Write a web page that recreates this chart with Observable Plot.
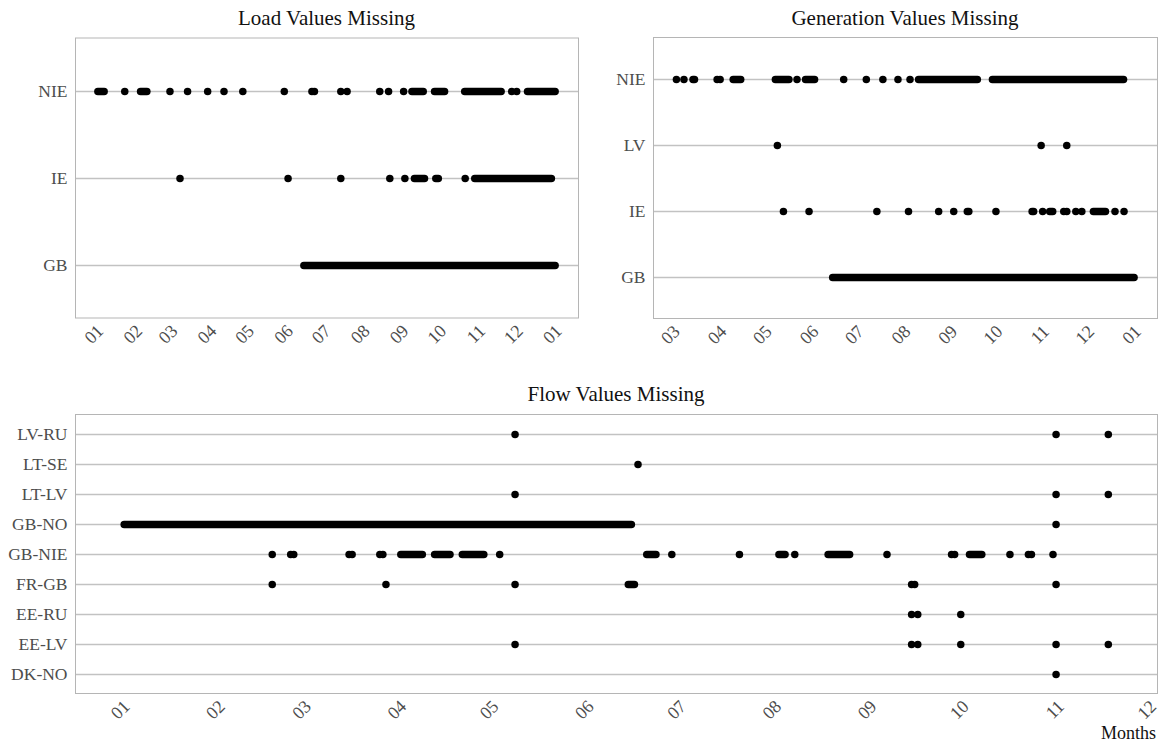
<!DOCTYPE html>
<html>
<head>
<meta charset="utf-8">
<script src="https://cdn.jsdelivr.net/npm/d3@7"></script>
<script src="https://cdn.jsdelivr.net/npm/@observablehq/plot@0.6"></script>
<style>
  body { margin: 0; background: #fff; }
  #wrap { position: relative; width: 1162px; height: 744px; overflow: hidden;
          font-family: "Liberation Serif", "DejaVu Serif", serif; }
  #wrap svg, #wrap svg text { font-family: "Liberation Serif", "DejaVu Serif", serif !important; }
  .panel { position: absolute; }
  .title { position: absolute; font-size: 21px; color: #111; text-align: center;
           white-space: nowrap; transform: translateX(-50%); line-height: 1; }
  .xlab { position: absolute; font-size: 18px; color: #111; white-space: nowrap; line-height: 1; }
</style>
</head>
<body>
<div id="wrap"></div>
<script>
const YEAR = 2017;

// Missing timestamps as "MM-DD"; a pair ["MM-DD", "MM-DD"] is an unbroken run of gaps.

// ---- Load ----
const loadAreas = ["NIE", "IE", "GB"];
const loadNIE = [["01-01", "01-06"], "01-22", ["02-04", "02-09"], "02-27", "03-13", "03-29",
  "04-11", "04-26", "05-29", "06-20", "06-22", "07-13", "07-18", "08-13", "08-20", "09-01",
  ["09-08", "09-17"], ["09-26", "10-04"], ["10-20", "11-18"], "11-26", "11-30", ["12-09", "12-31"]];
const loadIE = ["03-07", "06-01", "07-13", "08-21", "09-02", ["09-10", "09-18"],
  ["09-27", "09-29"], "10-20", ["10-28", "12-28"]];
const loadGB = [["06-14", "12-31"]];

// ---- Generation ----
const genAreas = ["NIE", "LV", "IE", "GB"];
const genNIE = ["03-02", "03-07", "03-13", "03-14", "03-29", "03-31", ["04-09", "04-14"],
  ["05-07", "05-16"], "05-21", ["05-27", "06-02"], "06-21", "07-06", "07-17", "07-27", "08-04",
  ["08-10", "09-18"], ["09-28", "12-24"]];
const genLV = ["05-08", "10-30", "11-16"];
const genIE = ["05-12", "05-29", "07-13", "08-03", "08-23", "09-02", "09-11", "09-12", "09-30",
  "10-24", "10-25", "10-31", ["11-05", "11-07"], "11-14", "11-16", "11-22", "11-26",
  ["12-04", "12-12"], "12-18", "12-24"];
const genGB = [["06-14", "12-31"]];

// ---- Flow (border pairs) ----
const flowPairs = ["LV-RU", "LT-SE", "LT-LV", "GB-NO", "GB-NIE", "FR-GB", "EE-RU", "EE-LV", "DK-NO"];
const flowLVRU = ["05-08", "10-31", "11-17"];
const flowLTSE = ["06-17"];
const flowLTLV = ["05-08", "10-31", "11-17"];
const flowGBNO = [["01-01", "06-15"], "10-31"];
const flowGBNIE = ["02-18", "02-24", "02-25", "03-15", "03-16", "03-25", "03-26",
  ["04-01", "04-08"], ["04-12", "04-17"], ["04-21", "04-28"], "05-03", ["06-20", "06-23"],
  "06-28", "07-20", ["08-02", "08-04"], "08-07", ["08-18", "08-25"], "09-06", "09-27", "09-28",
  ["10-03", "10-07"], "10-16", "10-22", "10-23", "10-30"];
const flowFRGB = ["02-18", "03-27", "05-08", ["06-14", "06-16"], "09-14", "09-15", "10-31"];
const flowEERU = ["09-14", "09-16", "09-30"];
const flowEELV = ["05-08", "09-14", "09-16", "09-30", "10-31", "11-17"];
const flowDKNO = ["10-31"];

const toDate = s => new Date(`${YEAR}-${s}T00:00:00Z`);

// Split a category's entries into single points and runs
function collect(series) {
  const points = [], runs = [];
  for (const [cat, list] of series) {
    for (const e of list) {
      if (Array.isArray(e)) runs.push({cat, from: toDate(e[0]), to: toDate(e[1])});
      else points.push({cat, date: toDate(e)});
    }
  }
  return {points, runs};
}

const FONT = '"Liberation Serif", "DejaVu Serif", serif';

function panel({series, areas, width, height, margin}) {
  const {points, runs} = collect(series);
  const all = [...points.map(d => d.date), ...runs.flatMap(d => [d.from, d.to])];
  const [lo, hi] = d3.extent(all);
  const pad = (hi - lo) * 0.05;             // 5% expansion on each side
  const domain = [new Date(+lo - pad), new Date(+hi + pad)];
  const ticks = d3.utcMonth.range(d3.utcMonth.ceil(domain[0]), new Date(+domain[1] + 1));
  return Plot.plot({
    width, height,
    marginTop: margin[0], marginRight: margin[1], marginBottom: margin[2], marginLeft: margin[3],
    style: {fontFamily: FONT, fontSize: "17px", color: "#4d4d4d", background: "white", overflow: "visible"},
    x: {type: "utc", domain},
    y: {type: "point", domain: areas, padding: 0.6},
    marks: [
      Plot.gridY({stroke: "#c2c2c2", strokeOpacity: 1, strokeWidth: 1.5}),
      Plot.frame({stroke: "#b5b5b5", strokeWidth: 1}),
      Plot.axisY({tickSize: 0, tickPadding: 8, label: null, fontSize: 17.5, fontFamily: FONT}),
      Plot.axisX({ticks, tickFormat: d3.utcFormat("%m"), tickRotate: -45, tickSize: 0,
                  tickPadding: 10, label: null, fontSize: 18, fontFamily: FONT, dx: 2}),
      Plot.ruleY(runs, {y: "cat", x1: "from", x2: "to", stroke: "black", strokeWidth: 7.5,
                        strokeLinecap: "round"}),
      Plot.dot(points, {x: "date", y: "cat", r: 3.75, fill: "black", stroke: "none"})
    ]
  });
}

const wrap = document.getElementById("wrap");
function place(node, left, top) {
  node.classList.add("panel");
  node.style.left = left + "px";
  node.style.top = top + "px";
  wrap.appendChild(node);
}
function label(text, cls, left, top) {
  const d = document.createElement("div");
  d.className = cls;
  d.textContent = text;
  d.style.left = left + "px";
  d.style.top = top + "px";
  wrap.appendChild(d);
}

place(panel({
  series: [["NIE", loadNIE], ["IE", loadIE], ["GB", loadGB]],
  areas: loadAreas, width: 580, height: 360, margin: [37.5, 2, 42.5, 75]
}), 0, 0);

place(panel({
  series: [["NIE", genNIE], ["LV", genLV], ["IE", genIE], ["GB", genGB]],
  areas: genAreas, width: 562, height: 360, margin: [37, 5, 42, 53]
}), 600, 0);

place(panel({
  series: [["LV-RU", flowLVRU], ["LT-SE", flowLTSE], ["LT-LV", flowLTLV], ["GB-NO", flowGBNO],
           ["GB-NIE", flowGBNIE], ["FR-GB", flowFRGB], ["EE-RU", flowEERU], ["EE-LV", flowEELV],
           ["DK-NO", flowDKNO]],
  areas: flowPairs, width: 1162, height: 364, margin: [34, 5, 51, 75]
}), 0, 380);

label("Load Values Missing", "title", 326.5, 8);
label("Generation Values Missing", "title", 905, 8);
label("Flow Values Missing", "title", 616, 384);
label("Months", "xlab", 1101, 724);
</script>
</body>
</html>
